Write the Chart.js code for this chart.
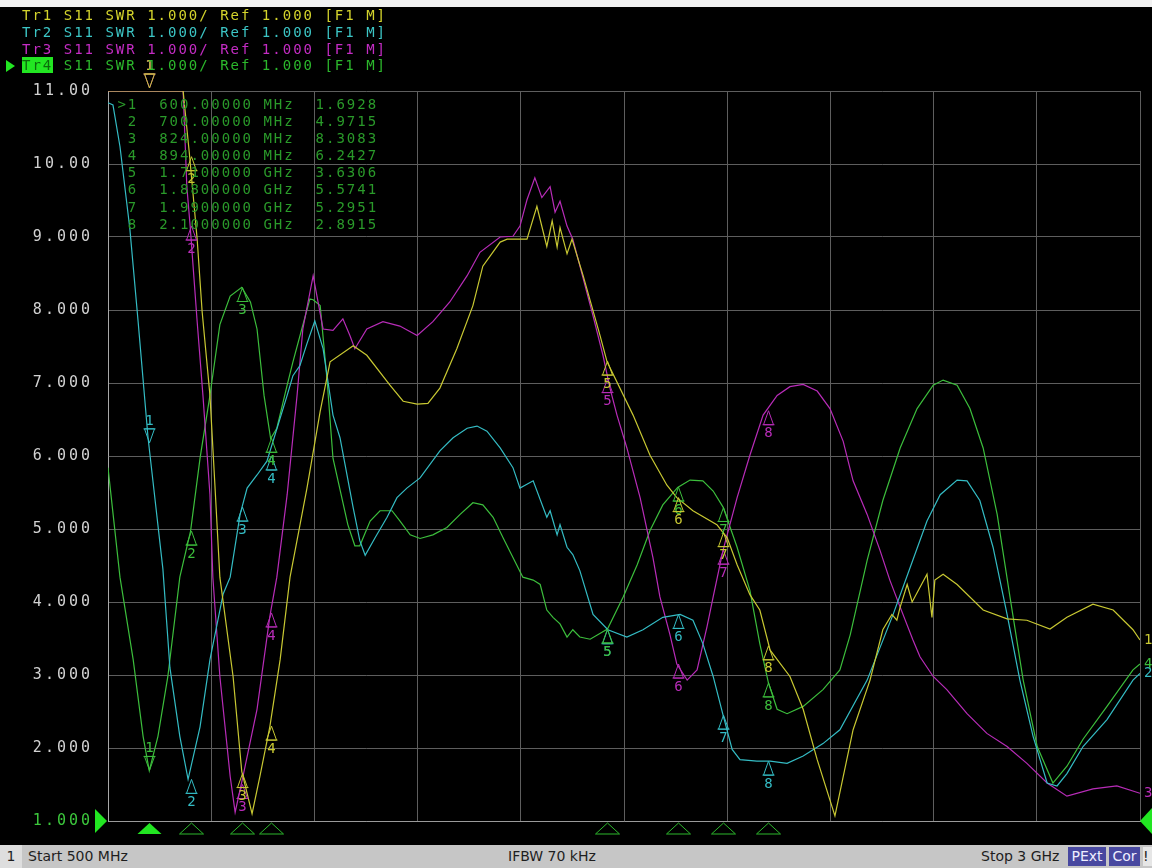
<!DOCTYPE html>
<html>
<head>
<meta charset="utf-8">
<title>S11 SWR</title>
<script src="https://cdn.jsdelivr.net/npm/chart.js@4.4.1/dist/chart.umd.min.js"></script>
<style>
  html, body { margin: 0; padding: 0; width: 1152px; height: 868px; background: #000; overflow: hidden; }
  #topStrip { position: absolute; left: 0; top: 0; width: 1152px; height: 7px; background: #f2f2f2; }
  #plot { position: absolute; left: 0; top: 0; }
  .mono { font-family: "DejaVu Sans Mono", monospace; font-size: 14px; letter-spacing: 2px; }
  #header { position: absolute; left: 22px; top: 7px; }
  #header div { height: 16.8px; line-height: 16.8px; white-space: pre; }
  .tr4tag { background: #22e622; color: #0b6b0b; }
  #activeArrow { position: absolute; left: 6px; top: 60px; width: 0; height: 0;
    border-top: 6px solid transparent; border-bottom: 6px solid transparent; border-left: 9px solid #22e622; }
  #mtable { position: absolute; left: 107px; top: 96px; line-height: 17.1px; color: #2a9a2a; white-space: pre; }
  #status { position: absolute; left: 0; top: 845px; width: 1152px; height: 23px; background: #c6c6c6;
    font-family: "DejaVu Sans", sans-serif; font-size: 14px; color: #1e1e1e; }
  #status span { position: absolute; top: 0; height: 23px; line-height: 23px; }
</style>
</head>
<body>
<div id="topStrip"></div>
<canvas id="plot" width="1152" height="845"></canvas>

<div id="header" class="mono"><div style="color:#d4d42c">Tr1 S11 SWR 1.000/ Ref 1.000 [F1 M]</div><div style="color:#3cc6c6">Tr2 S11 SWR 1.000/ Ref 1.000 [F1 M]</div><div style="color:#c42cc4">Tr3 S11 SWR 1.000/ Ref 1.000 [F1 M]</div><div style="color:#2cb82c"><span class="tr4tag">Tr4</span> S11 SWR 1.000/ Ref 1.000 [F1 M]</div></div>
<div id="activeArrow"></div>
<div id="mtable" class="mono"></div>

<div id="status">
  <span style="left:0;width:22px;background:#dedede;text-align:center">1</span>
  <span style="left:28px">Start 500 MHz</span>
  <span style="left:508px">IFBW 70 kHz</span>
  <span style="left:981px">Stop 3 GHz</span>
  <span style="left:1068px;top:2px;height:19px;line-height:19px;width:38px;background:#4848a0;color:#eef;text-align:center">PExt</span>
  <span style="left:1109px;top:2px;height:19px;line-height:19px;width:31px;background:#4848a0;color:#eef;text-align:center">Cor</span>
  <span style="left:1143px;top:2px;height:19px;line-height:19px;width:9px;background:#e6e6e6">!</span>
</div>

<script>
// Marker frequencies (MHz), shared by all traces
const markerFreqs = [600, 700, 824, 894, 1710, 1880, 1990, 2100];

// Trace points: [frequency MHz, SWR]
const tr1Points = [
  [500, 11.0], [600, 11.0], [682, 11.0], [697, 10.15], [716, 8.97], [728, 7.98], [747, 6.83], [759, 5.60],
  [771, 4.34], [803, 2.98], [824, 1.68], [849, 1.10], [868, 1.61], [892, 2.29], [917, 3.21], [941, 4.34],
  [982, 5.56], [1014, 6.61], [1038, 7.29], [1094, 7.51], [1127, 7.38], [1183, 6.97], [1215, 6.75], [1249, 6.71],
  [1275, 6.72], [1304, 6.93], [1345, 7.47], [1384, 8.06], [1408, 8.60], [1450, 8.93], [1467, 8.97], [1515, 8.97],
  [1539, 9.42], [1563, 8.87], [1576, 9.22], [1588, 8.86], [1595, 9.13], [1612, 8.77], [1624, 8.97], [1651, 8.47],
  [1692, 7.65], [1709, 7.29], [1772, 6.56], [1813, 6.01], [1854, 5.60], [1878, 5.43], [1917, 5.25], [1975, 5.06],
  [2000, 4.88], [2024, 4.51], [2055, 4.10], [2079, 3.89], [2104, 3.34], [2152, 2.98], [2184, 2.53], [2218, 1.84],
  [2261, 1.07], [2305, 2.25], [2346, 2.93], [2377, 3.62], [2399, 3.83], [2411, 3.75], [2419, 3.93], [2436, 4.24],
  [2448, 4.00], [2484, 4.38], [2496, 3.79], [2503, 4.30], [2523, 4.38], [2557, 4.24], [2620, 3.89], [2678, 3.77],
  [2726, 3.75], [2782, 3.63], [2823, 3.79], [2886, 3.97], [2935, 3.89], [2983, 3.62], [3000, 3.48]
];
const tr2Points = [
  [500, 10.84], [512, 10.81], [529, 10.24], [553, 9.11], [573, 7.84], [597, 6.25], [614, 5.40], [633, 4.45],
  [650, 3.10], [674, 2.16], [694, 1.57], [723, 2.29], [747, 3.21], [779, 4.11], [796, 4.34], [820, 5.20],
  [837, 5.56], [861, 5.74], [885, 5.93], [934, 6.83], [948, 7.10], [965, 7.24], [982, 7.54], [1001, 7.85],
  [1021, 7.47], [1045, 6.56], [1062, 6.25], [1094, 5.29], [1110, 4.84], [1123, 4.64], [1147, 4.88], [1176, 5.16],
  [1200, 5.43], [1224, 5.56], [1256, 5.70], [1304, 6.07], [1336, 6.25], [1370, 6.38], [1394, 6.41], [1418, 6.34],
  [1450, 6.11], [1481, 5.84], [1498, 5.56], [1530, 5.66], [1563, 5.16], [1571, 5.25], [1588, 4.92], [1595, 5.06],
  [1612, 4.75], [1626, 4.65], [1643, 4.43], [1675, 3.83], [1711, 3.62], [1757, 3.52], [1796, 3.62], [1844, 3.79],
  [1886, 3.83], [1917, 3.75], [1941, 3.43], [1966, 2.98], [1990, 2.45], [2012, 1.98], [2031, 1.84], [2072, 1.82],
  [2104, 1.82], [2145, 1.79], [2184, 1.89], [2232, 2.06], [2273, 2.25], [2339, 2.93], [2402, 3.83], [2443, 4.47],
  [2484, 5.11], [2516, 5.47], [2557, 5.67], [2581, 5.66], [2612, 5.39], [2644, 4.75], [2678, 3.83], [2709, 2.93],
  [2741, 2.16], [2775, 1.52], [2799, 1.48], [2823, 1.65], [2862, 2.02], [2920, 2.39], [2983, 2.93], [3000, 3.02]
];
const tr3Points = [
  [500, 11.0], [600, 11.0], [682, 11.0], [691, 9.69], [699, 9.15], [716, 7.84], [730, 6.83], [747, 5.47],
  [754, 4.34], [771, 2.98], [796, 1.61], [808, 1.12], [827, 1.61], [861, 2.53], [892, 3.80], [909, 4.34],
  [934, 5.47], [958, 6.83], [972, 7.74], [997, 8.47], [1021, 7.74], [1045, 7.72], [1069, 7.88], [1086, 7.65],
  [1098, 7.47], [1127, 7.74], [1166, 7.84], [1207, 7.78], [1249, 7.65], [1287, 7.84], [1328, 8.11], [1370, 8.47],
  [1401, 8.79], [1450, 9.00], [1481, 9.01], [1498, 9.15], [1515, 9.51], [1534, 9.81], [1551, 9.54], [1571, 9.69],
  [1583, 9.34], [1595, 9.49], [1612, 9.15], [1626, 8.97], [1675, 7.92], [1699, 7.38], [1716, 6.93], [1733, 6.56],
  [1757, 6.11], [1789, 5.43], [1820, 4.61], [1837, 4.07], [1861, 3.56], [1878, 3.15], [1903, 2.93], [1927, 3.07],
  [1951, 3.66], [1966, 4.07], [1990, 4.71], [2024, 5.43], [2055, 6.01], [2087, 6.56], [2121, 6.83], [2152, 6.95],
  [2184, 6.98], [2218, 6.89], [2249, 6.65], [2281, 6.20], [2305, 5.66], [2339, 5.20], [2370, 4.71], [2394, 4.30],
  [2419, 3.93], [2450, 3.48], [2467, 3.25], [2499, 2.98], [2532, 2.80], [2581, 2.47], [2629, 2.20], [2678, 2.02],
  [2726, 1.79], [2775, 1.52], [2823, 1.34], [2886, 1.44], [2944, 1.48], [3000, 1.38]
];
const tr4Points = [
  [500, 5.84], [529, 4.34], [561, 3.21], [585, 2.16], [600, 1.69], [621, 2.16], [645, 2.98], [674, 4.34],
  [700, 4.97], [723, 5.97], [747, 6.83], [771, 7.80], [796, 8.19], [824, 8.31], [845, 8.11], [861, 7.74],
  [878, 6.83], [894, 6.24], [909, 6.38], [934, 6.97], [948, 7.29], [989, 8.15], [997, 8.14], [1014, 8.06],
  [1031, 7.02], [1045, 5.97], [1081, 5.06], [1098, 4.77], [1110, 4.77], [1135, 5.11], [1159, 5.25], [1188, 5.25],
  [1207, 5.11], [1232, 4.92], [1256, 4.87], [1287, 4.92], [1321, 5.02], [1353, 5.20], [1384, 5.36], [1408, 5.33],
  [1433, 5.16], [1457, 4.88], [1481, 4.61], [1505, 4.34], [1530, 4.30], [1547, 4.24], [1563, 3.89], [1578, 3.79],
  [1595, 3.70], [1612, 3.52], [1626, 3.62], [1643, 3.52], [1668, 3.49], [1710, 3.63], [1748, 4.07], [1782, 4.51],
  [1813, 4.98], [1844, 5.33], [1880, 5.57], [1910, 5.67], [1941, 5.66], [1966, 5.52], [1990, 5.30], [2024, 4.75],
  [2055, 4.16], [2079, 3.43], [2100, 2.89], [2121, 2.53], [2145, 2.47], [2184, 2.57], [2232, 2.80], [2273, 3.07],
  [2298, 3.55], [2339, 4.57], [2377, 5.39], [2419, 6.11], [2460, 6.65], [2499, 6.97], [2523, 7.04], [2557, 6.97],
  [2588, 6.65], [2620, 6.11], [2654, 5.20], [2685, 4.07], [2717, 2.93], [2751, 2.02], [2789, 1.52], [2823, 1.75],
  [2862, 2.12], [2920, 2.57], [2983, 3.07], [3000, 3.15]
];

// Marker readouts per trace (values above 11 are off-scale)
const tr1Markers = [11.6, 10.1, 1.65, 2.3, 7.3, 5.43, 4.95, 3.4];
const tr2Markers = [6.18, 1.57, 5.3, 6.0, 3.62, 3.83, 2.45, 1.82];
const tr3Markers = [11.6, 9.15, 1.5, 3.85, 7.06, 3.15, 4.71, 6.62];
const tr4Markers = [1.6928, 4.9715, 8.3083, 6.2427, 3.6306, 5.5741, 5.2951, 2.8915];

const traceColors = ['#c8c832', '#34bcc4', '#b82cb8', '#3cbe3c'];

// marker table (active trace Tr4)
const rows = markerFreqs.map((f, i) => {
  const freq = f < 1000 ? f.toFixed(5) + ' MHz' : (f / 1000).toFixed(7) + ' GHz';
  return (i === 0 ? ' >' : '  ') + (i + 1) + '  ' + freq + '  ' + tr4Markers[i].toFixed(4);
});
document.getElementById('mtable').textContent = rows.join('\n');

const toXY = pts => pts.map(p => ({ x: p[0], y: p[1] }));

const traces = [
  { num: '1', points: tr1Points, markers: tr1Markers, color: traceColors[0] },
  { num: '2', points: tr2Points, markers: tr2Markers, color: traceColors[1] },
  { num: '3', points: tr3Points, markers: tr3Markers, color: traceColors[2] },
  { num: '4', points: tr4Points, markers: tr4Markers, color: traceColors[3] }
];

// wider character pitch for the axis labels
const spacingPlugin = {
  id: 'spacing',
  beforeDraw(chart) { chart.ctx.letterSpacing = '3px'; },
  beforeDatasetsDraw(chart) { chart.ctx.letterSpacing = '0px'; }
};

function drawMarker(ctx, px, py, num, active) {
  ctx.beginPath();
  if (active) {
    ctx.moveTo(px, py); ctx.lineTo(px - 5, py - 14); ctx.lineTo(px + 5, py - 14); ctx.closePath();
    ctx.moveTo(px - 6, py - 14); ctx.lineTo(px + 6, py - 14);
    ctx.stroke();
    ctx.fillText(num, px, py - 22);
  } else {
    ctx.moveTo(px, py); ctx.lineTo(px - 5, py + 14); ctx.lineTo(px + 5, py + 14); ctx.closePath();
    ctx.moveTo(px - 6, py + 14); ctx.lineTo(px + 6, py + 14);
    ctx.stroke();
    ctx.fillText(num, px, py + 23);
  }
}

const markerPlugin = {
  id: 'markers',
  afterDatasetsDraw(chart) {
    const { ctx, chartArea } = chart;
    const x = chart.scales.x, y = chart.scales.y;
    ctx.save();
    ctx.lineWidth = 1;
    ctx.font = '14px "DejaVu Sans Mono"';
    ctx.textAlign = 'center';
    ctx.textBaseline = 'middle';

    // trace markers, Tr1 drawn last so it sits on top
    [2, 1, 3, 0].forEach(t => {
      const tr = traces[t];
      ctx.strokeStyle = tr.color;
      ctx.fillStyle = tr.color;
      tr.markers.forEach((v, i) => {
        const px = Math.round(x.getPixelForValue(markerFreqs[i])) + 0.5;
        const py = v > 11 ? chartArea.top - 3 : y.getPixelForValue(v);
        drawMarker(ctx, px, py, String(i + 1), i === 0);
      });
    });

    // trace end labels at right edge
    ctx.textAlign = 'left';
    traces.forEach(tr => {
      const last = tr.points[tr.points.length - 1][1];
      ctx.fillStyle = tr.color;
      ctx.fillText(tr.num, chartArea.right + 4, y.getPixelForValue(last));
    });

    // marker position indicators below the grid
    const b = chartArea.bottom;
    markerFreqs.forEach((f, i) => {
      const px = Math.round(x.getPixelForValue(f)) + 0.5;
      ctx.beginPath();
      ctx.moveTo(px, b + 2); ctx.lineTo(px - 12, b + 13); ctx.lineTo(px + 12, b + 13); ctx.closePath();
      if (i === 0) { ctx.fillStyle = '#22e622'; ctx.fill(); }
      else { ctx.strokeStyle = '#2cb82c'; ctx.stroke(); }
    });

    // reference position arrows
    const ry = y.getPixelForValue(1);
    ctx.fillStyle = '#22e622';
    ctx.beginPath();
    ctx.moveTo(chartArea.left - 13, ry - 12); ctx.lineTo(chartArea.left - 1, ry); ctx.lineTo(chartArea.left - 13, ry + 12);
    ctx.closePath(); ctx.fill();
    ctx.beginPath();
    ctx.moveTo(1152, ry - 13); ctx.lineTo(chartArea.right, ry); ctx.lineTo(1152, ry + 13);
    ctx.closePath(); ctx.fill();
    ctx.restore();
  }
};

new Chart(document.getElementById('plot').getContext('2d'), {
  type: 'line',
  data: {
    datasets: traces.map(tr => ({
      label: 'Tr' + tr.num,
      data: toXY(tr.points),
      borderColor: tr.color,
      borderWidth: 1.2,
      pointRadius: 0,
      tension: 0,
      fill: false
    }))
  },
  options: {
    responsive: false,
    devicePixelRatio: 1,
    animation: false,
    layout: { padding: { left: 0, top: 91, right: 12, bottom: 20 } },
    plugins: { legend: { display: false }, tooltip: { enabled: false } },
    scales: {
      x: {
        type: 'linear', min: 500, max: 3000,
        ticks: { display: false, stepSize: 250 },
        grid: { color: '#5e5e5e', drawTicks: false },
        border: { color: '#9a9a9a' },
        afterFit(s) { s.height = 0; }
      },
      y: {
        type: 'linear', min: 1, max: 11,
        ticks: {
          stepSize: 1,
          padding: 15,
          font: { family: 'DejaVu Sans Mono', size: 15 },
          color: c => c.tick.value === 1 ? '#3cc83c' : '#d2d2d2',
          callback: v => v >= 10 ? v.toFixed(2) : v.toFixed(3)
        },
        grid: { color: '#5e5e5e', drawTicks: false },
        border: { color: '#a8a8a8' },
        afterFit(s) { s.width = 108; }
      }
    }
  },
  plugins: [spacingPlugin, markerPlugin]
});
</script>
</body>
</html>
